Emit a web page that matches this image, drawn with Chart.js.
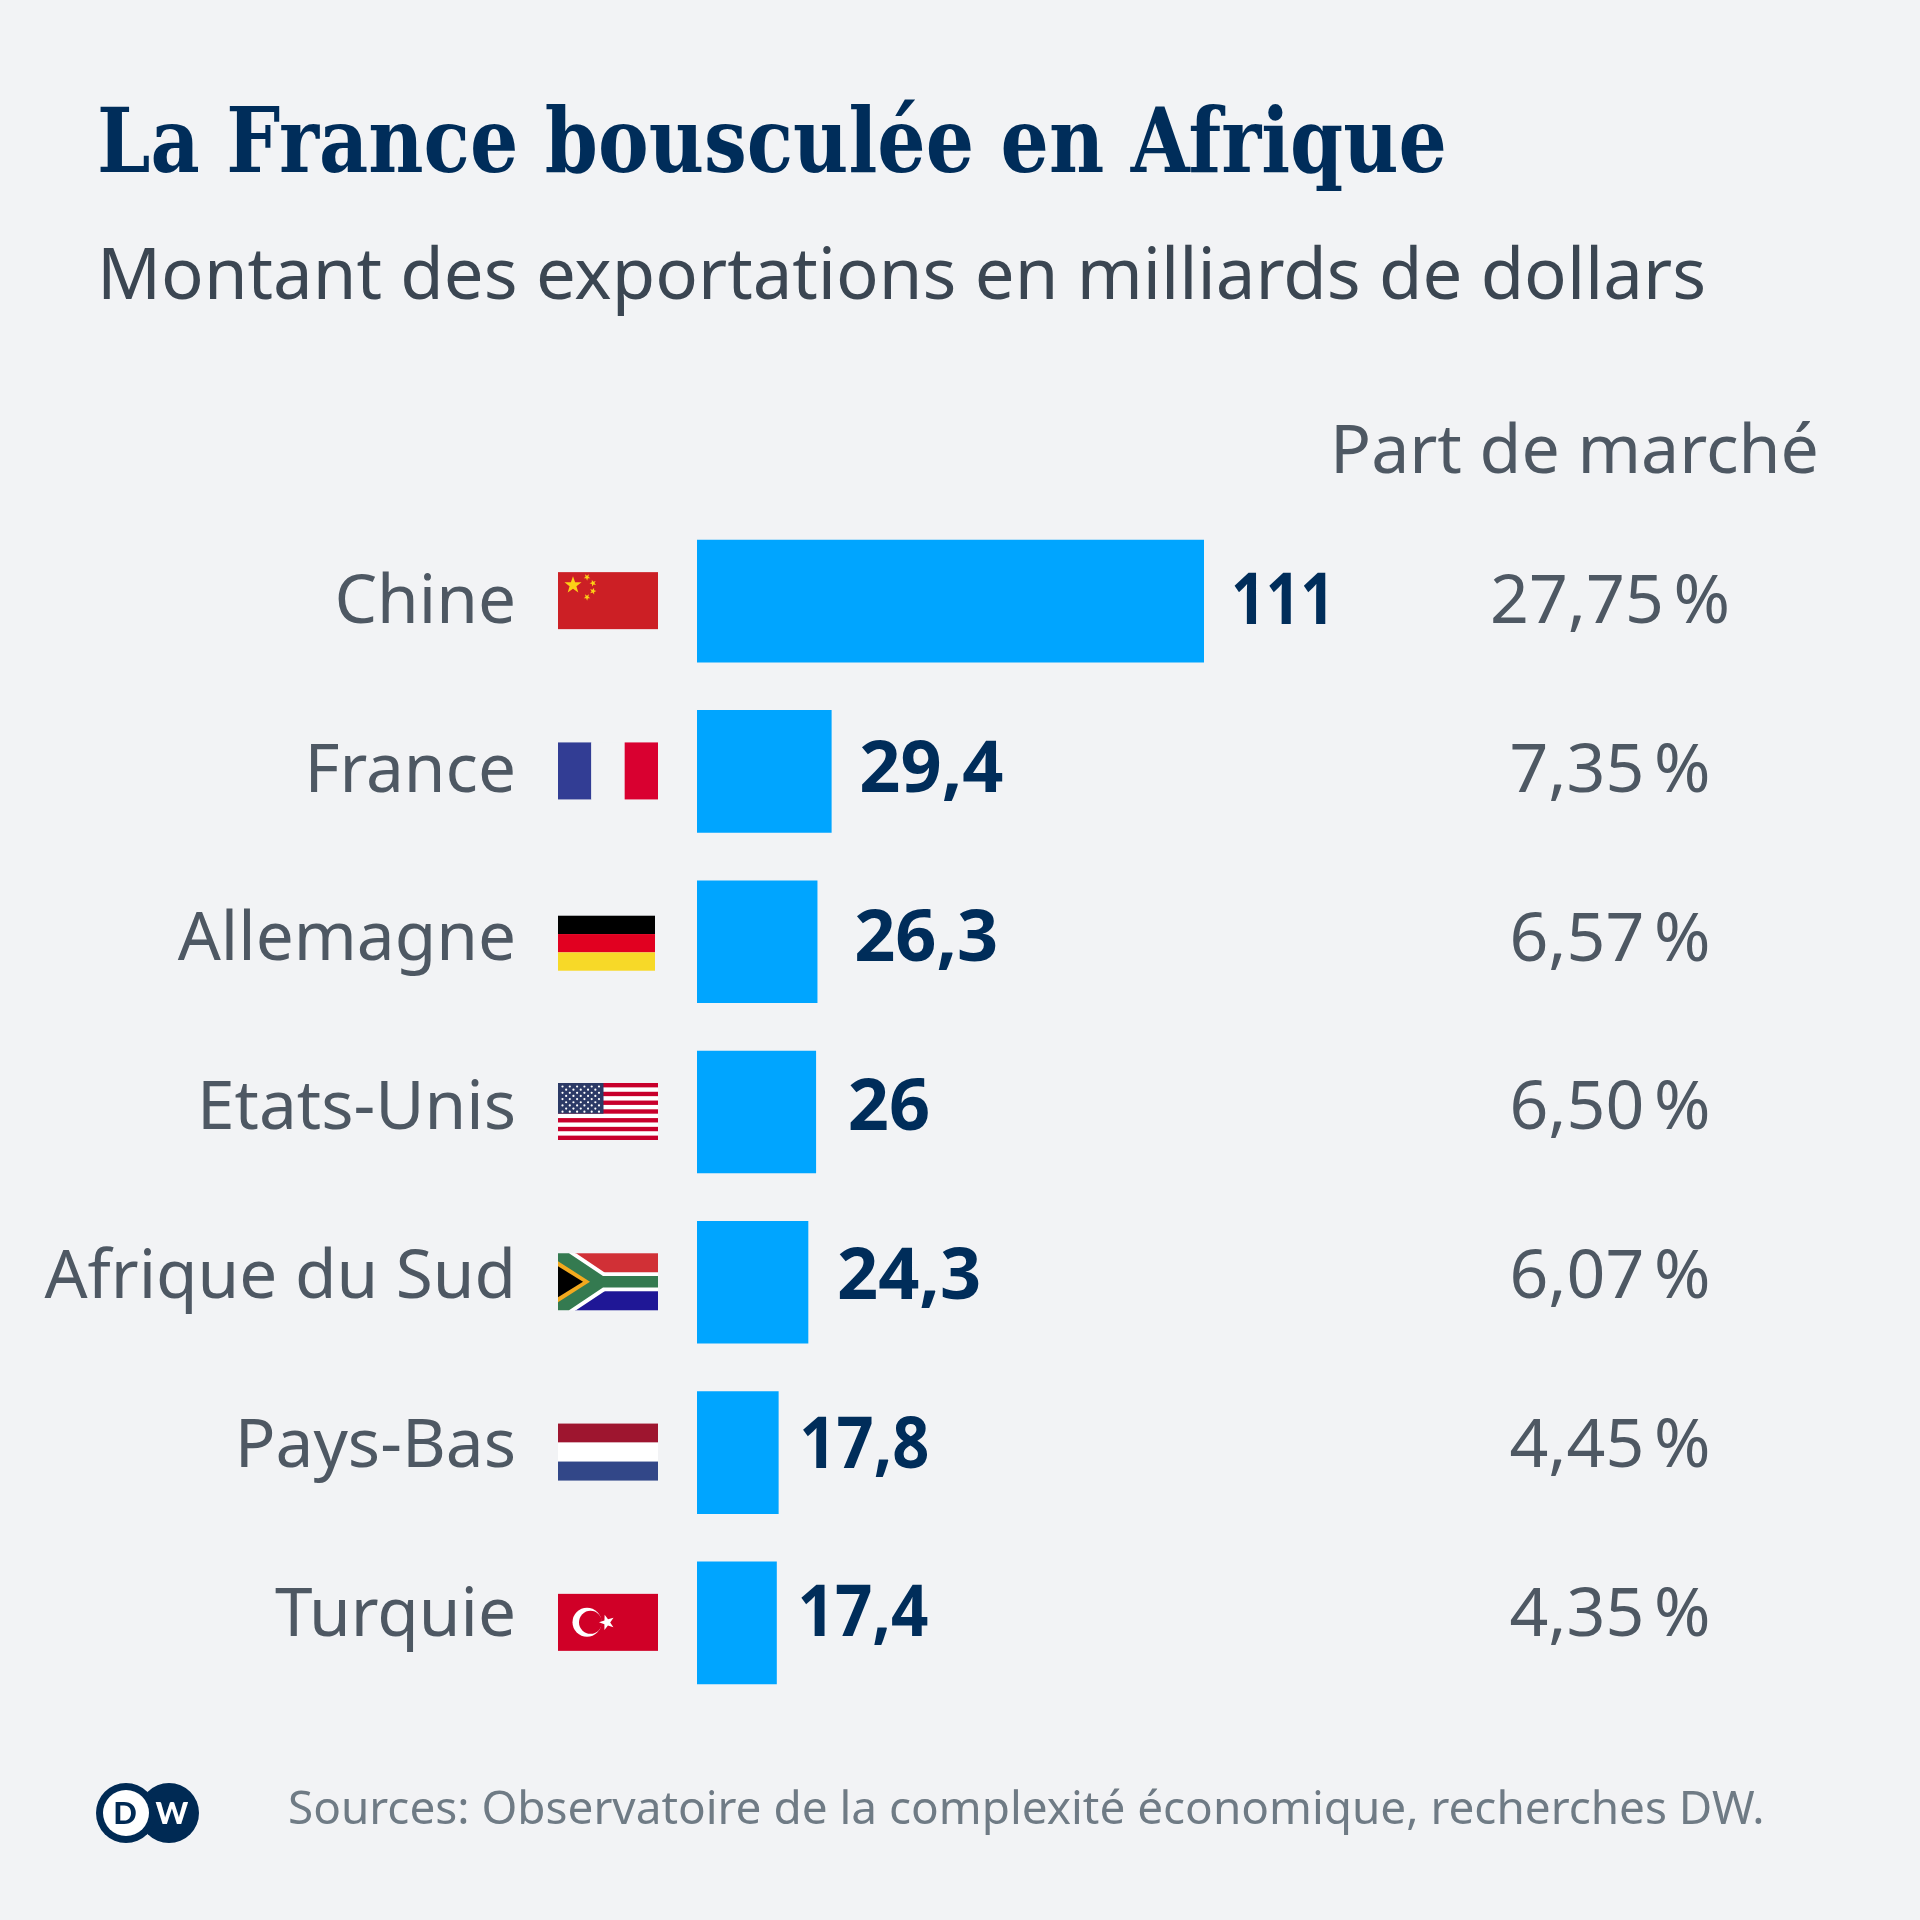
<!DOCTYPE html>
<html lang="fr">
<head>
    <meta charset="UTF-8">
    <title>La France bousculée en Afrique</title>
    <style>
        body { margin: 0; background: #f2f3f5; }
        #wrap { width: 1920px; height: 1920px; }
    </style>
</head>
<body>
<div id="wrap"><canvas id="chart" width="1920" height="1920"></canvas></div>
<script src="https://cdn.jsdelivr.net/npm/chart.js@4"></script>
<script>
    const countries = ['Chine', 'France', 'Allemagne', 'Etats-Unis', 'Afrique du Sud', 'Pays-Bas', 'Turquie'];
    const exportsBn = [111, 29.4, 26.3, 26, 24.3, 17.8, 17.4];
    const valueLabels = ['111', '29,4', '26,3', '26', '24,3', '17,8', '17,4'];
    const marketShare = ['27,75 %', '7,35 %', '6,57 %', '6,50 %', '6,07 %', '4,45 %', '4,35 %'];

    const titleText = 'La France bousculée en Afrique';
    const subtitleText = 'Montant des exportations en milliards de dollars';
    const shareHeader = 'Part de marché';
    const sourceText = 'Sources: Observatoire de la complexité économique, recherches DW.';

    const NAVY = '#002d5a';
    const GREY = '#4e5863';
    const SANS = '"Noto Sans"';

    function star(ctx, cx, cy, r, color, rot) {
        ctx.fillStyle = color;
        ctx.beginPath();
        for (let i = 0; i < 10; i++) {
            const a = (rot || 0) - Math.PI / 2 + i * Math.PI / 5;
            const rr = i % 2 ? r * 0.4 : r;
            ctx.lineTo(cx + Math.cos(a) * rr, cy + Math.sin(a) * rr);
        }
        ctx.closePath();
        ctx.fill();
    }

    function rect(ctx, color, x, y, w, h) {
        ctx.fillStyle = color;
        ctx.fillRect(x, y, w, h);
    }

    // drapeaux, dessinés dans une boite x,y,w,h
    const flags = {
        Chine(ctx, x, y, w, h) {
            rect(ctx, '#cc1f25', x, y, w, h);
            star(ctx, x + 15, y + 13, 9, '#fcd116');
            star(ctx, x + 29, y + 5, 3.5, '#fcd116', 0.6);
            star(ctx, x + 35, y + 11, 3.5, '#fcd116', 0.9);
            star(ctx, x + 35, y + 19, 3.5, '#fcd116', 0.3);
            star(ctx, x + 29, y + 25, 3.5, '#fcd116', 0.6);
        },
        France(ctx, x, y, w, h) {
            rect(ctx, '#323d94', x, y, w / 3, h);
            rect(ctx, '#f2f3f5', x + w / 3, y, w / 3, h);
            rect(ctx, '#d90030', x + 2 * w / 3, y, w / 3, h);
        },
        Allemagne(ctx, x, y, w, h) {
            w -= 3;
            y += 3;
            h -= 2;
            rect(ctx, '#000000', x, y, w, h / 3);
            rect(ctx, '#e10020', x, y + h / 3, w, h / 3);
            rect(ctx, '#f7d928', x, y + 2 * h / 3, w, h / 3);
        },
        'Etats-Unis'(ctx, x, y, w, h) {
            const sh = h / 13;
            rect(ctx, '#ffffff', x, y, w, h);
            for (let i = 0; i < 13; i += 2) rect(ctx, '#c8002c', x, y + i * sh, w, sh);
            rect(ctx, '#2c3a66', x, y, w * 0.455, sh * 7);
            ctx.fillStyle = '#ffffff';
            for (let r = 0; r < 9; r++) {
                const n = r % 2 ? 5 : 6;
                for (let c = 0; c < n; c++) {
                    ctx.beginPath();
                    ctx.arc(x + 4.5 + c * 7.3 + (r % 2 ? 3.65 : 0), y + 3.5 + r * 3.15, 1.1, 0, 2 * Math.PI);
                    ctx.fill();
                }
            }
        },
        'Afrique du Sud'(ctx, x, y, w, h) {
            const m = h / 2;
            rect(ctx, '#f2f3f5', x, y, w, h);
            rect(ctx, '#d13036', x + 17, y, w - 17, h / 3);
            rect(ctx, '#1f1796', x + 17, y + 2 * h / 3, w - 17, h / 3);
            ctx.fillStyle = '#ffffff';
            ctx.beginPath();
            ctx.moveTo(x, y); ctx.lineTo(x + 18, y); ctx.lineTo(x + 47, y + h * 0.34);
            ctx.lineTo(x + w, y + h * 0.34); ctx.lineTo(x + w, y + h * 0.66);
            ctx.lineTo(x + 47, y + h * 0.66); ctx.lineTo(x + 18, y + h); ctx.lineTo(x, y + h);
            ctx.closePath();
            ctx.fill();
            ctx.fillStyle = '#347a50';
            ctx.beginPath();
            ctx.moveTo(x, y); ctx.lineTo(x + 11, y); ctx.lineTo(x + 45, y + h * 0.4);
            ctx.lineTo(x + w, y + h * 0.4); ctx.lineTo(x + w, y + h * 0.6);
            ctx.lineTo(x + 45, y + h * 0.6); ctx.lineTo(x + 11, y + h); ctx.lineTo(x, y + h);
            ctx.closePath();
            ctx.fill();
            ctx.fillStyle = '#f2a91e';
            ctx.beginPath();
            ctx.moveTo(x, y + 8); ctx.lineTo(x + 32, y + m); ctx.lineTo(x, y + h - 8);
            ctx.closePath();
            ctx.fill();
            ctx.fillStyle = '#000000';
            ctx.beginPath();
            ctx.moveTo(x, y + 13); ctx.lineTo(x + 25, y + m); ctx.lineTo(x, y + h - 13);
            ctx.closePath();
            ctx.fill();
        },
        'Pays-Bas'(ctx, x, y, w, h) {
            rect(ctx, '#9e152f', x, y, w, h / 3);
            rect(ctx, '#ffffff', x, y + h / 3, w, h / 3);
            rect(ctx, '#324788', x, y + 2 * h / 3, w, h / 3);
        },
        Turquie(ctx, x, y, w, h) {
            rect(ctx, '#d00027', x, y, w, h);
            const cy = y + h / 2;
            ctx.fillStyle = '#ffffff';
            ctx.beginPath();
            ctx.arc(x + 29, cy, 14.5, 0, 2 * Math.PI);
            ctx.fill();
            ctx.fillStyle = '#d00027';
            ctx.beginPath();
            ctx.arc(x + 32.5, cy, 11.5, 0, 2 * Math.PI);
            ctx.fill();
            star(ctx, x + 49, cy, 8, '#ffffff', -0.3);
        }
    };

    // écarts de placement du texte de la maquette, ligne par ligne
    const labelGap = [27, 28, 37, 32, 29, 21, 21];
    const labelWidth = [104, 150, 150, 150, 150, 130, 131];
    const rowDrift = 1.5;

    const decorPlugin = {
        id: 'decor',
        afterDatasetsDraw(chart) {
            const ctx = chart.ctx;
            const y = chart.scales.y;
            const x = chart.scales.x;
            ctx.save();
            ctx.textBaseline = 'middle';

            countries.forEach((name, i) => {
                const cy = y.getPixelForValue(i);
                const ty = cy - rowDrift * i;

                ctx.textAlign = 'right';
                ctx.fillStyle = GREY;
                ctx.font = '67.5px ' + SANS;
                ctx.fillText(name, 516, ty + 2.5);

                flags[name](ctx, 558, cy - 0.5 - 28.5, 100, 57);

                ctx.textAlign = 'left';
                ctx.fillStyle = NAVY;
                ctx.font = 'bold 72px ' + SANS;
                ctx.fillText(valueLabels[i], x.getPixelForValue(exportsBn[i]) + labelGap[i], ty + 2, labelWidth[i]);

                ctx.textAlign = 'center';
                ctx.fillStyle = GREY;
                ctx.font = '68px ' + SANS;
                ctx.wordSpacing = '-8px';
                ctx.fillText(marketShare[i], 1610, ty + 2.5);
                ctx.wordSpacing = '0px';
            });

            ctx.textBaseline = 'alphabetic';
            ctx.textAlign = 'left';
            ctx.fillStyle = NAVY;
            ctx.font = 'bold 90px "DejaVu Serif"';
            ctx.fillText(titleText, 97, 172, 1350);
            ctx.fillStyle = '#3b4652';
            ctx.font = '70.7px ' + SANS;
            ctx.fillText(subtitleText, 97, 299);
            ctx.fillStyle = GREY;
            ctx.font = '68px ' + SANS;
            ctx.fillText(shareHeader, 1330, 473);
            ctx.fillStyle = '#6f7b85';
            ctx.font = '45.9px ' + SANS;
            ctx.fillText(sourceText, 288, 1824);

            // logo DW
            ctx.fillStyle = '#002a54';
            ctx.beginPath();
            ctx.arc(169, 1813, 30, 0, 2 * Math.PI);
            ctx.fill();
            ctx.beginPath();
            ctx.arc(126, 1813, 30, 0, 2 * Math.PI);
            ctx.fill();
            ctx.fillStyle = '#ffffff';
            ctx.beginPath();
            ctx.arc(126, 1813, 23, 0, 2 * Math.PI);
            ctx.fill();
            ctx.textAlign = 'center';
            ctx.textBaseline = 'middle';
            ctx.font = '900 31px Lato';
            ctx.fillStyle = '#002a54';
            ctx.fillText('D', 125, 1814);
            ctx.fillStyle = '#ffffff';
            ctx.fillText('W', 172, 1814);
            ctx.restore();
        }
    };

    new Chart(document.getElementById('chart'), {
        type: 'bar',
        data: {
            labels: countries,
            datasets: [{
                data: exportsBn,
                backgroundColor: '#00a5ff',
                borderWidth: 0,
                barThickness: 122
            }]
        },
        options: {
            indexAxis: 'y',
            responsive: false,
            animation: false,
            layout: { padding: { top: 516, bottom: 212, left: 697, right: 716 } },
            plugins: { legend: { display: false }, tooltip: { enabled: false } },
            scales: {
                x: { display: false, min: 0, max: 111 },
                y: { display: false }
            }
        },
        plugins: [decorPlugin]
    });
</script>
</body>
</html>
